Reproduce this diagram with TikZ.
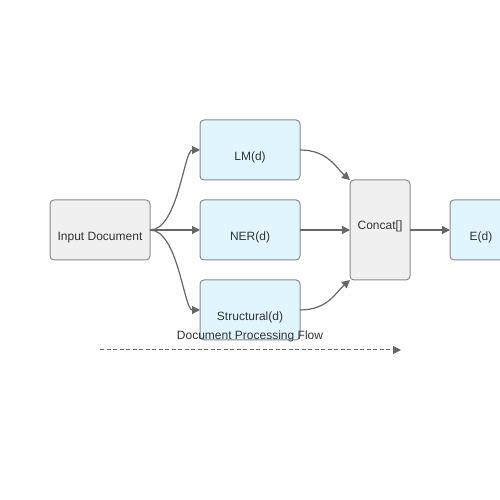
\documentclass[tikz,border=0pt]{standalone}
\usepackage{fontspec}
\setmainfont{Liberation Sans}
\usetikzlibrary{positioning,arrows.meta}
\definecolor{boxgray}{HTML}{F0F0F0}
\definecolor{boxblue}{HTML}{E1F5FE}
\definecolor{edgegray}{HTML}{666666}
\definecolor{linegray}{HTML}{8A8A8A}
\definecolor{txt}{HTML}{333333}

\begin{document}
\begin{tikzpicture}[x=1pt, y=1pt, font=\fontsize{12}{14}\selectfont, text=txt,
  box/.style = {draw=linegray, line width=1pt, rounded corners=4pt, minimum width=100pt, minimum height=60pt, inner sep=0pt, outer sep=0pt},
  step1/.style = {box, fill=boxblue, text height=23pt, text depth=2pt},
  grey/.style = {box, fill=boxgray, text height=23pt, text depth=2pt},
  flow/.style = {draw=edgegray, line width=1.2pt, -{Triangle[length=8pt,width=8pt]}}]
\useasboundingbox (0,0) rectangle (500,500);
\clip (0,0) rectangle (500,500);
\node[grey] (in) at (100,270) {Input Document};
\node[step1] (ner) [right=50pt of in] {NER(d)};
\node[step1] (lm) [above=20pt of ner] {LM(d)};
\node[step1] (st) [below=20pt of ner] {Structural(d)};
\node[box, fill=boxgray, minimum width=60pt, minimum height=100pt, text height=3pt, text depth=3pt] (cc) [right=50pt of ner] {Concat[]};
\node[step1, minimum width=62pt] (ed) [right=40pt of cc] {E(d)};
\node (lbl) at (250,164) {Document Processing Flow};
\coordinate (fa) at (100,150);
\coordinate (fb) at (401,150);
\draw[flow] (in.east) .. controls (178,270) and (184,350) .. (lm.west);
\draw[flow] (in.east) -- (ner.west);
\draw[flow] (in.east) .. controls (178,270) and (184,190) .. (st.west);
\draw[flow] (lm.east) .. controls (328,350) and (336,332) .. (cc.north west);
\draw[flow] (ner.east) -- (cc.west);
\draw[flow] (st.east) .. controls (328,190) and (336,208) .. (cc.south west);
\draw[flow] (cc.east) -- (ed.west);
\draw[flow, line width=1pt, dash pattern=on 4pt off 2.5pt] (fa) -- (fb);
\end{tikzpicture}
\end{document}
